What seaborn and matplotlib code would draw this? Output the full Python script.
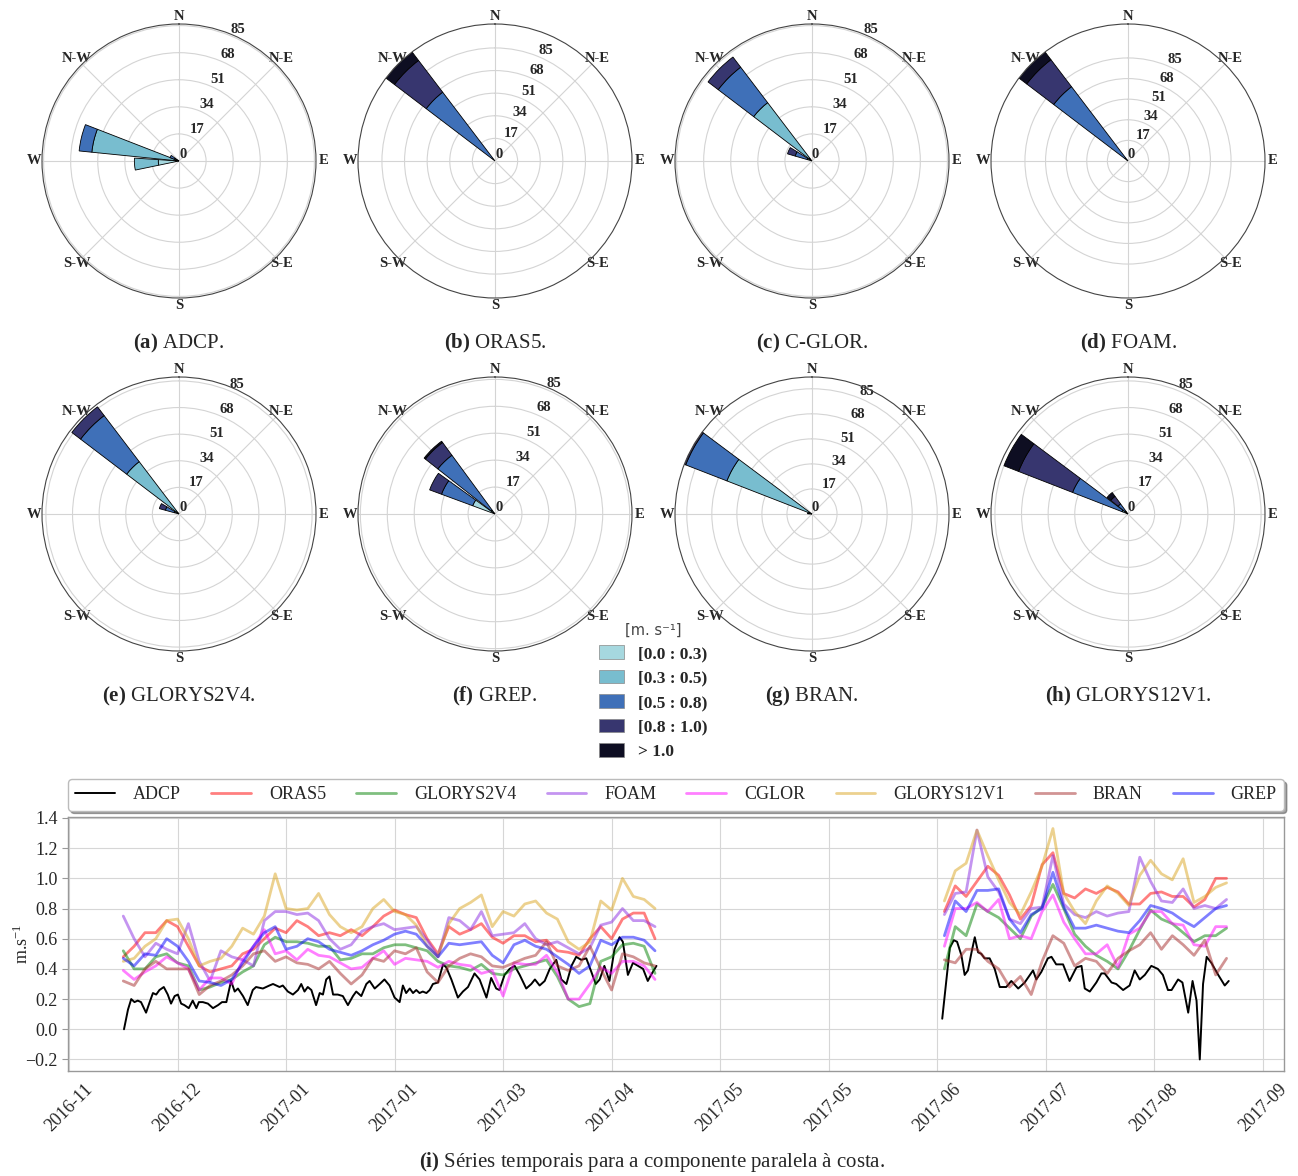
import numpy as np
import pandas as pd
import matplotlib
matplotlib.use("Agg")
import matplotlib.pyplot as plt
import matplotlib.dates as mdates
from matplotlib.patches import Patch
from matplotlib.lines import Line2D
import seaborn as sns

sns.set_style("white")
plt.rcParams['font.family'] = ['Liberation Serif', 'DejaVu Serif']
plt.rcParams['mathtext.fontset'] = 'custom'
plt.rcParams['mathtext.rm'] = 'Liberation Serif'
plt.rcParams['mathtext.bf'] = 'Liberation Serif:bold'
plt.rcParams['mathtext.it'] = 'Liberation Serif:italic'

# ---------------- rose data ----------------
ROSE_NAMES = ["ADCP", "ORAS5", "C-GLOR", "FOAM", "GLORYS2V4", "GREP", "BRAN", "GLORYS12V1"]
ROSE_TAGS = ["(a)", "(b)", "(c)", "(d)", "(e)", "(f)", "(g)", "(h)"]
SPEED_BINS = ["[0.0 : 0.3)", "[0.3 : 0.5)", "[0.5 : 0.8)", "[0.8 : 1.0)", "> 1.0"]
BIN_COLORS = ["#a6d8df", "#78bdcf", "#3f70b8", "#37366f", "#0e0e22"]
RADII = [0, 17, 34, 51, 68, 85]
# direction (deg, clockwise from N) of each bar
ROSE_DIRS = [
    [266, 283.5, 298],
    [315],
    [294, 315],
    [315],
    [293, 315],
    [298, 316],
    [280, 299],
    [299, 316],
]
# stacked frequency of each speed bin for each bar
ROSE_FREQ = [
    [[13, 15, 0, 0, 0], [2, 53, 8, 0, 0], [1, 2, 3, 0, 0]],
    [[0, 0, 65, 30, 8]],
    [[0, 3, 8, 5, 0], [2, 44, 28, 8, 0]],
    [[1, 2, 74, 28, 8]],
    [[0, 3, 6, 4, 0], [1, 41, 37, 7, 0]],
    [[15, 0, 21, 8, 0], [1, 2, 43, 10, 1]],
    [[0, 1, 1, 1, 0], [0, 62, 30, 1, 0]],
    [[1, 3, 34, 37, 10], [0, 2, 6, 6, 3]],
]
ROSE_RMAX = [86, 103, 86, 113, 87.5, 86.5, 93, 87.5]

# ---------------- time-series data ----------------
BASE = pd.Timestamp("2016-11-02")
SERIES = ["ADCP", "ORAS5", "GLORYS2V4", "FOAM", "CGLOR", "GLORYS12V1", "BRAN", "GREP"]
SERIES_COLORS = ["black", "red", "green", "blueviolet", "magenta", "goldenrod", "brown", "blue"]

ADCP_DAYS_1 = [15.2, 16.3, 17.2, 18.1, 19.0, 19.9, 21.3, 22.3, 23.2, 24.1, 25.0, 26.2, 27.3, 28.2, 29.2,
               30.1, 31.0, 31.9, 33.1, 34.2, 35.2, 35.9, 37.0, 38.4, 39.8, 41.2, 42.3, 43.5, 44.8, 45.8,
               46.7, 48.1, 49.4, 50.8, 51.7, 53.6, 55.4, 56.4, 58.2, 59.1, 60.5, 61.9, 63.3, 64.2, 65.1,
               66.0, 67.0, 68.3, 69.3, 70.2, 71.1, 72.0, 73.0, 74.3, 75.7, 77.1, 78.5, 79.4, 80.8, 82.2,
               83.1, 84.5, 85.9, 87.2, 88.6, 90.0, 91.4, 92.3, 93.2, 94.2, 95.1, 96.0, 96.9, 97.8, 98.8,
               99.7, 100.6, 102.0, 103.4, 104.3, 105.7, 107.5, 108.9, 110.3, 112.1, 113.5, 115.4, 116.7,
               118.1, 119.0, 120.4, 121.8, 123.2, 124.6, 126.4, 127.8, 128.8, 130.1, 131.5, 132.9, 134.7,
               136.1, 137.5, 138.9, 140.2, 141.6, 143.0, 144.4, 145.6, 146.7, 148.0, 149.4, 150.8, 152.2,
               153.1, 154.5, 155.9, 157.3, 158.7, 160.0, 160.9, 162.4]
ADCP_VALS_1 = [0.00, 0.13, 0.20, 0.18, 0.19, 0.18, 0.11, 0.18, 0.24, 0.23, 0.26, 0.28, 0.23, 0.17, 0.22,
               0.23, 0.17, 0.16, 0.14, 0.19, 0.14, 0.18, 0.18, 0.17, 0.14, 0.16, 0.18, 0.18, 0.32, 0.25,
               0.27, 0.22, 0.16, 0.26, 0.28, 0.27, 0.29, 0.30, 0.28, 0.29, 0.25, 0.23, 0.26, 0.30, 0.25,
               0.28, 0.26, 0.16, 0.24, 0.23, 0.33, 0.35, 0.23, 0.23, 0.22, 0.16, 0.22, 0.25, 0.22, 0.30,
               0.32, 0.27, 0.30, 0.33, 0.29, 0.21, 0.18, 0.29, 0.24, 0.27, 0.24, 0.26, 0.24, 0.25, 0.24,
               0.26, 0.30, 0.31, 0.43, 0.41, 0.33, 0.21, 0.25, 0.28, 0.37, 0.33, 0.21, 0.34,
               0.27, 0.26, 0.36, 0.40, 0.42, 0.36, 0.27, 0.30, 0.33, 0.29, 0.32, 0.40, 0.46,
               0.33, 0.30, 0.42, 0.48, 0.46, 0.47, 0.38, 0.30, 0.33, 0.42, 0.32, 0.53, 0.61,
               0.58, 0.36, 0.44, 0.42, 0.40, 0.32, 0.36, 0.42]
ADCP_DAYS_2 = [241.4, 243.5, 244.6, 245.5, 246.7, 247.6, 248.5, 249.5, 250.4, 251.3, 252.2, 253.1, 254.5,
               255.9, 257.3, 259.1, 260.5, 262.4, 264.2, 266.5, 267.4, 268.8, 270.6, 271.6, 272.9, 274.8,
               276.6, 278.5, 279.9, 280.8, 282.2, 284.0, 285.4, 286.3, 288.2, 289.5, 291.4, 293.2, 294.6,
               296.0, 297.4, 299.2, 301.0, 302.4, 303.8, 304.8, 306.6, 307.8, 309.4, 310.6, 311.7, 312.6,
               313.5, 314.5, 315.8, 317.7, 319.5, 320.6]
ADCP_VALS_2 = [0.07, 0.54, 0.59, 0.58, 0.49, 0.36, 0.39, 0.51, 0.61, 0.51, 0.50, 0.47, 0.47,
               0.40, 0.28, 0.28, 0.32, 0.27, 0.31, 0.39, 0.33, 0.38, 0.47, 0.48, 0.43, 0.43,
               0.32, 0.41, 0.42, 0.27, 0.25, 0.31, 0.37, 0.37, 0.31, 0.30, 0.26, 0.29, 0.39,
               0.33, 0.36, 0.42, 0.40, 0.36, 0.26, 0.26, 0.33, 0.31, 0.11, 0.32, 0.19, -0.20,
               0.30, 0.48, 0.44, 0.36, 0.29, 0.32]

MODEL_DAYS_1 = list(range(15, 163, 3))
MODEL_DAYS_2 = list(range(242, 321, 3))

ORAS5_1 = [0.48, 0.55, 0.64, 0.64, 0.72, 0.68, 0.55, 0.42, 0.38, 0.40, 0.42, 0.50, 0.53, 0.60, 0.67, 0.64, 0.72,
           0.68, 0.62, 0.64, 0.62, 0.66, 0.62, 0.68, 0.75, 0.79, 0.76, 0.74, 0.60, 0.50, 0.68, 0.63, 0.66, 0.70,
           0.61, 0.57, 0.62, 0.62, 0.58, 0.59, 0.52, 0.51, 0.49, 0.60, 0.68, 0.60, 0.73, 0.77, 0.77, 0.60]
ORAS5_2 = [0.78, 0.95, 0.88, 0.98, 1.08, 1.02, 0.89, 0.73, 0.82, 1.09, 1.17, 0.90, 0.87, 0.93, 0.90, 0.94, 0.91,
           0.83, 0.83, 0.90, 0.91, 0.88, 0.88, 0.81, 0.86, 1.00, 1.00]
GLORYS2V4_1 = [0.52, 0.40, 0.40, 0.48, 0.50, 0.44, 0.42, 0.26, 0.28, 0.31, 0.33, 0.38, 0.42, 0.56, 0.61, 0.58,
               0.58, 0.57, 0.55, 0.55, 0.46, 0.47, 0.50, 0.50, 0.54, 0.56, 0.56, 0.54, 0.52, 0.45, 0.42, 0.41,
               0.39, 0.43, 0.37, 0.36, 0.40, 0.42, 0.44, 0.46, 0.35, 0.20, 0.15, 0.17, 0.45, 0.48, 0.56, 0.57,
               0.55, 0.37]
GLORYS2V4_2 = [0.40, 0.68, 0.62, 0.83, 0.78, 0.74, 0.67, 0.60, 0.75, 0.81, 0.96, 0.80, 0.63, 0.55, 0.49, 0.45,
               0.40, 0.52, 0.66, 0.79, 0.73, 0.70, 0.64, 0.58, 0.62, 0.62, 0.67]
FOAM_1 = [0.75, 0.60, 0.48, 0.57, 0.53, 0.50, 0.70, 0.45, 0.32, 0.52, 0.48, 0.46, 0.42, 0.72, 0.78, 0.78, 0.76,
          0.77, 0.72, 0.60, 0.53, 0.56, 0.65, 0.68, 0.70, 0.66, 0.67, 0.68, 0.59, 0.48, 0.74, 0.72, 0.66, 0.78,
          0.62, 0.63, 0.64, 0.70, 0.60, 0.56, 0.58, 0.54, 0.50, 0.54, 0.69, 0.71, 0.80, 0.72, 0.72, 0.68]
FOAM_2 = [0.76, 0.90, 0.91, 1.32, 1.01, 0.91, 0.73, 0.70, 0.80, 0.81, 1.15, 0.83, 0.76, 0.74, 0.78, 0.75, 0.77,
          0.78, 1.14, 0.98, 0.85, 0.84, 0.93, 0.80, 0.82, 0.80, 0.86]
CGLOR_1 = [0.39, 0.33, 0.38, 0.42, 0.48, 0.44, 0.40, 0.26, 0.34, 0.34, 0.30, 0.46, 0.55, 0.66, 0.50, 0.52, 0.46,
           0.53, 0.49, 0.48, 0.44, 0.40, 0.41, 0.47, 0.52, 0.43, 0.47, 0.46, 0.45, 0.41, 0.45, 0.43, 0.42, 0.37,
           0.39, 0.22, 0.44, 0.43, 0.43, 0.49, 0.38, 0.20, 0.20, 0.30, 0.41, 0.37, 0.45, 0.45, 0.42, 0.33]
CGLOR_2 = [0.55, 0.80, 0.80, 0.84, 0.78, 0.86, 0.60, 0.62, 0.60, 0.78, 0.89, 0.71, 0.60, 0.50, 0.50, 0.56, 0.41,
           0.63, 0.67, 0.78, 0.78, 0.70, 0.69, 0.56, 0.55, 0.68, 0.68]
GLORYS12V1_1 = [0.45, 0.47, 0.55, 0.60, 0.72, 0.73, 0.60, 0.42, 0.45, 0.47, 0.55, 0.67, 0.63, 0.75, 1.03, 0.80,
                0.79, 0.80, 0.90, 0.76, 0.68, 0.64, 0.68, 0.80, 0.86, 0.78, 0.76, 0.69, 0.55, 0.48, 0.70, 0.80,
                0.84, 0.89, 0.68, 0.78, 0.75, 0.83, 0.85, 0.77, 0.73, 0.58, 0.53, 0.58, 0.85, 0.79, 1.00, 0.88,
                0.86, 0.80]
GLORYS12V1_2 = [0.85, 1.05, 1.10, 1.32, 1.15, 0.99, 0.84, 0.76, 0.91, 1.08, 1.33, 0.90, 0.78, 0.70, 0.85, 0.95,
                0.90, 0.82, 1.02, 1.12, 1.03, 0.99, 1.13, 0.84, 0.88, 0.94, 0.97]
BRAN_1 = [0.32, 0.29, 0.40, 0.45, 0.40, 0.40, 0.40, 0.23, 0.29, 0.32, 0.36, 0.42, 0.50, 0.52, 0.45, 0.48, 0.44,
          0.43, 0.40, 0.45, 0.37, 0.30, 0.36, 0.47, 0.45, 0.52, 0.50, 0.54, 0.38, 0.31, 0.42, 0.47, 0.50, 0.48,
          0.42, 0.41, 0.44, 0.47, 0.49, 0.58, 0.42, 0.39, 0.42, 0.55, 0.40, 0.26, 0.50, 0.48, 0.44, 0.42]
BRAN_2 = [0.46, 0.44, 0.53, 0.53, 0.45, 0.40, 0.28, 0.35, 0.23, 0.45, 0.62, 0.57, 0.42, 0.47, 0.45, 0.37, 0.47,
          0.52, 0.56, 0.64, 0.53, 0.62, 0.56, 0.49, 0.59, 0.36, 0.47]
GREP_1 = [0.47, 0.42, 0.50, 0.49, 0.60, 0.55, 0.45, 0.32, 0.31, 0.29, 0.33, 0.44, 0.55, 0.64, 0.68, 0.53, 0.55,
          0.60, 0.58, 0.53, 0.51, 0.49, 0.52, 0.56, 0.59, 0.63, 0.65, 0.63, 0.55, 0.48, 0.57, 0.56, 0.57, 0.58,
          0.49, 0.44, 0.56, 0.59, 0.55, 0.53, 0.48, 0.43, 0.37, 0.42, 0.59, 0.56, 0.61, 0.61, 0.59, 0.52]
GREP_2 = [0.62, 0.85, 0.78, 0.92, 0.92, 0.93, 0.73, 0.64, 0.76, 0.80, 1.04, 0.81, 0.67, 0.67, 0.69, 0.67, 0.65,
          0.64, 0.72, 0.82, 0.80, 0.77, 0.72, 0.68, 0.74, 0.80, 0.82]

XTICK_DATES = pd.date_range("2016-11-02", periods=12, freq="30D")

# ---------------- build table ----------------
rows = []
def add(name, days, vals, seg):
    for d, v in zip(days, vals):
        rows.append((name, BASE + pd.Timedelta(days=d), v, seg))

add("ADCP", ADCP_DAYS_1, ADCP_VALS_1, 1)
add("ADCP", ADCP_DAYS_2, ADCP_VALS_2, 2)
model_data = {
    "ORAS5": (ORAS5_1, ORAS5_2), "GLORYS2V4": (GLORYS2V4_1, GLORYS2V4_2), "FOAM": (FOAM_1, FOAM_2),
    "CGLOR": (CGLOR_1, CGLOR_2), "GLORYS12V1": (GLORYS12V1_1, GLORYS12V1_2), "BRAN": (BRAN_1, BRAN_2),
    "GREP": (GREP_1, GREP_2),
}
for name, (s1, s2) in model_data.items():
    add(name, MODEL_DAYS_1, s1, 1)
    add(name, MODEL_DAYS_2, s2, 2)
df = pd.DataFrame(rows, columns=["series", "date", "value", "seg"])

# ---------------- figure ----------------
W, H = 1298, 1176
fig = plt.figure(figsize=(W / 100, H / 100), dpi=100)

centers = [(179, 161), (495, 161), (812, 161), (1128, 161),
           (179, 514), (495, 514), (812, 514), (1128, 514)]
R = 137
for i, (cx, cy) in enumerate(centers):
    ax = fig.add_axes([(cx - R) / W, 1 - (cy + R) / H, 2 * R / W, 2 * R / H], projection="polar")
    ax.set_theta_zero_location("N")
    ax.set_theta_direction(-1)
    for d, freqs in zip(ROSE_DIRS[i], ROSE_FREQ[i]):
        bottom = 0.0
        for k, f in enumerate(freqs):
            if f > 0:
                ax.bar(np.deg2rad(d), f, width=np.deg2rad(15.5), bottom=bottom,
                       color=BIN_COLORS[k], edgecolor="black", linewidth=0.6)
            bottom += f
    ax.set_ylim(0, ROSE_RMAX[i])
    ax.set_thetagrids(range(0, 360, 45), labels=["N", "N-E", "E", "S-E", "S", "S-W", "W", "N-W"],
                      fontweight="bold", fontsize=10.5)
    ax.set_rgrids(RADII, labels=[str(r) for r in RADII], angle=22.5, fontweight="bold", fontsize=10.5)
    ax.grid(color="#d4d4d4", linewidth=0.8)
    ax.spines["polar"].set_color("#444444")
    ax.spines["polar"].set_linewidth(0.8)
    ax.tick_params(axis="x", pad=-5)
    capy = 343 if i < 4 else 696
    fig.text(cx / W, 1 - capy / H, r"$\mathbf{" + ROSE_TAGS[i] + r"}$ " + ROSE_NAMES[i] + ".",
             ha="center", va="center", fontsize=15)

# speed legend
handles = [Patch(facecolor=c, edgecolor="#888888", linewidth=0.5) for c in BIN_COLORS]
leg = fig.legend(handles, SPEED_BINS, loc="upper left", bbox_to_anchor=(583 / W, 1 - 607 / H),
                 frameon=False, title="[m. s\u207b\u00b9]", handlelength=1.45, handleheight=0.8,
                 labelspacing=0.45, handletextpad=0.8,
                 prop={"family": "Liberation Serif", "weight": "bold", "size": 12.5})
leg.get_title().set_fontfamily("DejaVu Sans")
leg.get_title().set_fontsize(10.5)
leg.get_title().set_color("#444444")

# time series
ax = fig.add_axes([68 / W, 1 - 1071 / H, (1284 - 68) / W, (1071 - 817) / H])
for name, color in zip(SERIES, SERIES_COLORS):
    sub = df[df["series"] == name]
    if name == "ADCP":
        sns.lineplot(data=sub, x="date", y="value", units="seg", estimator=None, color=color,
                     linewidth=1.4, ax=ax, legend=False)
    else:
        sns.lineplot(data=sub, x="date", y="value", units="seg", estimator=None, color=color,
                     alpha=0.5, linewidth=2.0, ax=ax, legend=False)

ax.xaxis.set_major_locator(matplotlib.ticker.FixedLocator(mdates.date2num(XTICK_DATES)))
ax.xaxis.set_major_formatter(mdates.DateFormatter("%Y-%m"))
ax.set_yticks(np.arange(-0.2, 1.41, 0.2))
ax.yaxis.set_major_formatter(matplotlib.ticker.FuncFormatter(
    lambda v, p: ("%.1f" % v).replace("-", "\u2212") if abs(v) > 1e-9 else "0.0"))
ax.tick_params(axis="x", labelrotation=45, labelsize=13)
ax.tick_params(axis="y", labelsize=13, left=True, length=4, color="#999999")
for lab in ax.get_xticklabels():
    lab.set_ha("center")
ax.grid(True, color="#d6d6d6", linewidth=0.8)
for sp in ax.spines.values():
    sp.set_color("#999999")
    sp.set_linewidth(1.0)
ax.set_xlabel("")
ax.set_ylabel("m.s$^{-1}$", fontsize=13)
ax.yaxis.set_label_coords(-0.030, 0.5)

lh = [Line2D([], [], color=c, linewidth=(1.4 if n == "ADCP" else 2.0), alpha=(1 if n == "ADCP" else 0.5))
      for n, c in zip(SERIES, SERIES_COLORS)]
ax.legend(lh, SERIES, ncol=8, loc="lower left", mode="expand", bbox_to_anchor=(0.0, 1.025, 1.0, 0.1),
          borderaxespad=0, frameon=True, shadow=True, fancybox=True, fontsize=13,
          handlelength=2.2, handletextpad=1.0, edgecolor="#bbbbbb")

fig.text(652 / W, 1 - 1162 / H, r"$\mathbf{(i)}$ Séries temporais para a componente paralela à costa.",
         ha="center", va="center", fontsize=15)

fig.savefig("out.png", dpi=100)
